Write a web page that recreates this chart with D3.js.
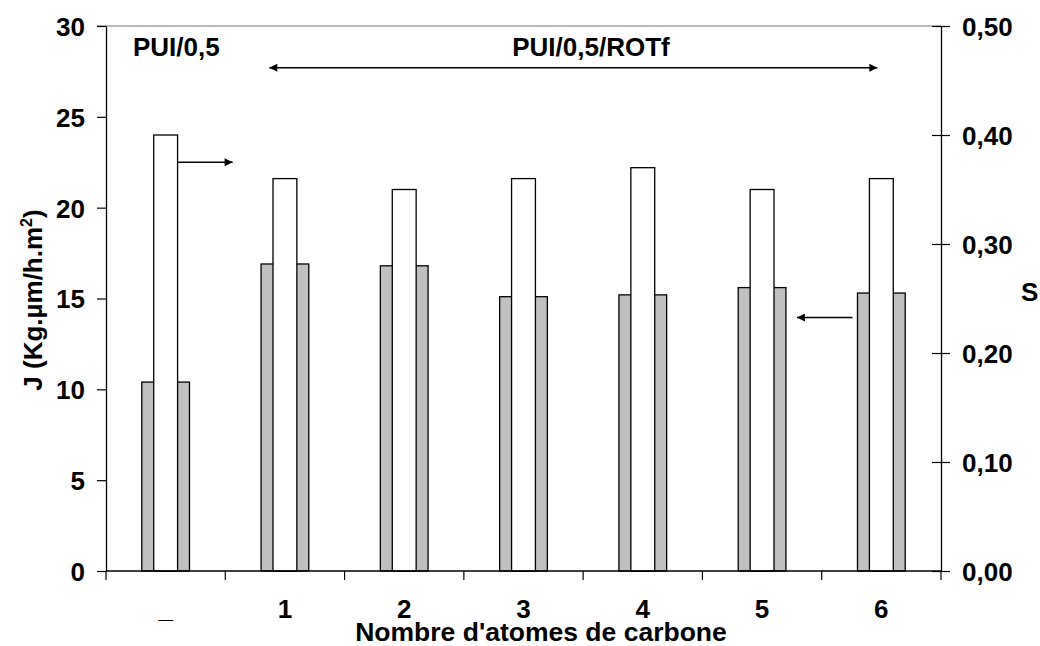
<!DOCTYPE html>
<html><head><meta charset="utf-8">
<script src="https://cdn.jsdelivr.net/npm/d3@7"></script>
<style>
html,body{margin:0;padding:0;background:#fff;}
text{font-family:"Liberation Sans",Arial,sans-serif;font-weight:bold;fill:#000;}
</style></head>
<body>
<svg id="chart" width="1040" height="646"></svg>
<script>
const categories = ["_", "1", "2", "3", "4", "5", "6"];
const jValues = [10.4, 16.9, 16.8, 15.1, 15.2, 15.6, 15.3];
const sValues = [0.40, 0.36, 0.35, 0.36, 0.37, 0.35, 0.36];
const jTicks = [0, 5, 10, 15, 20, 25, 30];
const sTicks = [0, 0.1, 0.2, 0.3, 0.4, 0.5];
const xTitle = "Nombre d'atomes de carbone";
const labelAll = "PUI/0,5";
const labelRange = "PUI/0,5/ROTf";

const svg = d3.select("#chart");
const L = 106, R = 941, T = 26, B = 571;
const FS = 26;

const x = d3.scaleBand().domain(categories).range([L, R]).paddingInner(0).paddingOuter(0);
const yJ = d3.scaleLinear().domain([0, 30]).range([B, T]);
const yS = d3.scaleLinear().domain([0, 0.5]).range([B, T]);
const fmtS = v => d3.format(".2f")(v).replace(".", ",");

const defs = svg.append("defs");
defs.append("marker").attr("id","ah").attr("viewBox","0 0 10 10").attr("refX",10).attr("refY",5)
  .attr("markerWidth",9).attr("markerHeight",8).attr("markerUnits","userSpaceOnUse").attr("orient","auto-start-reverse")
  .append("path").attr("d","M0,0 L10,5 L0,10 Z").attr("fill","#000");

// top gray frame line
svg.append("line").attr("x1", L - 9).attr("x2", R).attr("y1", T).attr("y2", T)
  .attr("stroke", "#a0a0a0").attr("stroke-width", 1.5);

// bars
const bw = x.bandwidth();
const gw = bw * 0.4, ww = bw * 0.2;
svg.append("g").selectAll("rect").data(categories).join("rect")
  .attr("x", (d) => x(d) + bw/2 - gw/2).attr("width", gw)
  .attr("y", (d,i) => yJ(jValues[i])).attr("height", (d,i) => B - yJ(jValues[i]))
  .attr("fill", "#c0c0c0").attr("stroke", "#000").attr("stroke-width", 1.3);
svg.append("g").selectAll("rect").data(categories).join("rect")
  .attr("x", (d) => x(d) + bw/2 - ww/2).attr("width", ww)
  .attr("y", (d,i) => yS(sValues[i])).attr("height", (d,i) => B - yS(sValues[i]))
  .attr("fill", "#fff").attr("stroke", "#000").attr("stroke-width", 1.3);

// left axis
const gL = svg.append("g").attr("transform", `translate(${L},0)`)
  .call(d3.axisLeft(yJ).tickValues(jTicks).tickSize(9).tickPadding(12).tickSizeOuter(0));
gL.select(".domain").attr("stroke","#000").attr("stroke-width",1.3);
gL.selectAll(".tick line").attr("stroke","#000").attr("stroke-width",1.2);
gL.selectAll("text").attr("font-size", FS).attr("font-family",'"Liberation Sans",Arial,sans-serif').attr("font-weight","bold").attr("dy","0.36em");

// right axis
const gR = svg.append("g").attr("transform", `translate(${R},0)`)
  .call(d3.axisRight(yS).tickValues(sTicks).tickFormat(fmtS).tickSize(9).tickPadding(12).tickSizeOuter(0));
gR.select(".domain").attr("stroke","#000").attr("stroke-width",1.3);
gR.selectAll(".tick line").attr("stroke","#000").attr("stroke-width",1.2).attr("x1",-9);
gR.selectAll("text").attr("font-size", FS).attr("font-family",'"Liberation Sans",Arial,sans-serif').attr("font-weight","bold").attr("dy","0.36em");

// bottom axis (boundary ticks)
svg.append("line").attr("x1", L).attr("x2", R).attr("y1", B).attr("y2", B).attr("stroke","#000").attr("stroke-width",1.3);
const bounds = categories.map(c => x(c)).concat([R]);
svg.append("g").selectAll("line").data(bounds).join("line")
  .attr("x1", d => d).attr("x2", d => d).attr("y1", B).attr("y2", B + 9).attr("stroke","#000").attr("stroke-width",1.2);
svg.append("g").selectAll("text").data(categories).join("text")
  .attr("x", d => x(d) + bw/2).attr("y", 618).attr("text-anchor","middle").attr("font-size", FS).text(d => d);

// axis titles
svg.append("text").attr("x", 541).attr("y", 641).attr("text-anchor","middle").attr("font-size", 26.5).text(xTitle);
const yt = svg.append("text").attr("transform", "translate(42,300) rotate(-90)").attr("text-anchor","middle").attr("font-size", 26);
yt.append("tspan").text("J (Kg.\u00b5m/h.m");
yt.append("tspan").attr("font-size", 16).attr("dy", -10).text("2");
yt.append("tspan").attr("dy", 10).text(")");
svg.append("text").attr("x", 1021).attr("y", 301).attr("font-size", FS).text("S");

// annotations
svg.append("text").attr("x", 133).attr("y", 56).attr("font-size", FS).text(labelAll);
svg.append("text").attr("x", 591).attr("y", 56).attr("text-anchor","middle").attr("font-size", FS).text(labelRange);

svg.append("line").attr("x1", x("1") + 44).attr("x2", x("6") + bw/2 - 4).attr("y1", yJ(27.7)).attr("y2", yJ(27.7))
  .attr("stroke","#000").attr("stroke-width",1.5).attr("marker-start","url(#ah)").attr("marker-end","url(#ah)");
svg.append("line").attr("x1", x("_") + bw/2 + ww/2).attr("x2", x("_") + bw/2 + 67).attr("y1", yJ(22.5)).attr("y2", yJ(22.5))
  .attr("stroke","#000").attr("stroke-width",1.5).attr("marker-end","url(#ah)");
svg.append("line").attr("x1", x("6") + bw/2 - gw/2 - 5).attr("x2", x("5") + bw/2 + gw/2 + 11).attr("y1", yJ(13.95)).attr("y2", yJ(13.95))
  .attr("stroke","#000").attr("stroke-width",1.5).attr("marker-end","url(#ah)");
</script>
</body></html>
